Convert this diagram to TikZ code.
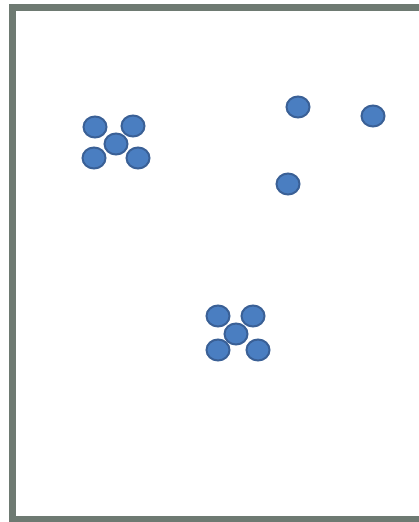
\documentclass[tikz,border=0pt]{standalone}
\usetikzlibrary{shapes.geometric}
\definecolor{framegray}{RGB}{110,122,114}
\definecolor{dotfill}{RGB}{74,126,193}
\definecolor{dotline}{RGB}{58,96,150}
\begin{document}
\begin{tikzpicture}[x=1pt,y=-1pt,
  dot/.style={ellipse,draw=dotline,fill=dotfill,line width=2pt,minimum width=23pt,minimum height=21pt,inner sep=0pt}]
\useasboundingbox (0,0) rectangle (419,522);
\fill[white] (0,0) rectangle (419,522);
\draw[framegray,line width=7pt] (12.5,7.5) rectangle (423,519.5);
% cluster 1
\node[dot] (a1) at (95,127) {};
\node[dot] (a2) at (133,126) {};
\node[dot] (a3) at (116,144) {};
\node[dot] (a4) at (94,158) {};
\node[dot] (a5) at (138,158) {};
% cluster 2
\node[dot] (b1) at (218,316) {};
\node[dot] (b2) at (253,316) {};
\node[dot] (b3) at (236,334) {};
\node[dot] (b4) at (218,350) {};
\node[dot] (b5) at (258,350) {};
% singles
\node[dot] (s1) at (298,107) {};
\node[dot] (s2) at (373,116) {};
\node[dot] (s3) at (288,184) {};
\end{tikzpicture}
\end{document}
